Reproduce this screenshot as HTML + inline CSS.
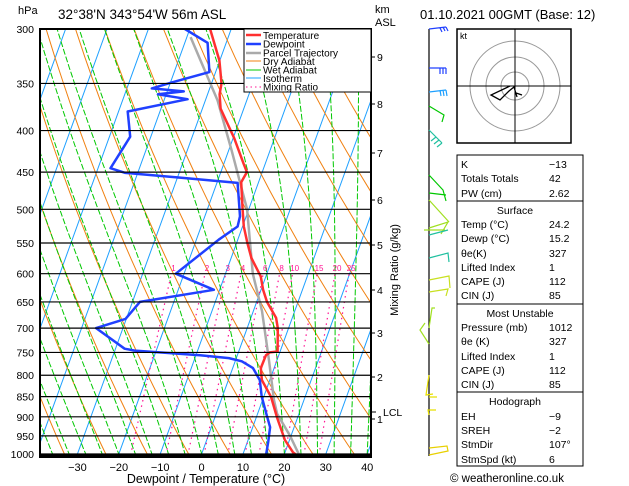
<!DOCTYPE html>
<html><head><meta charset="utf-8"><style>
body{margin:0;background:#fff;}
svg{display:block;font-family:"Liberation Sans",sans-serif;}
</style></head><body>
<svg id="s" width="629" height="486" viewBox="0 0 629 486">
<defs><clipPath id="pc"><rect x="40" y="29" width="331" height="428"/></clipPath></defs>
<g id="bg" clip-path="url(#pc)"></g>
<g id="series" clip-path="url(#pc)"></g>
<g id="axes"></g>
</svg>
<script>
const pressures=[300,350,400,450,500,550,600,650,700,750,800,850,900,950,1000];
const tempTicks=[-30,-20,-10,0,10,20,30,40];
const kmLabels=["9","8","7","6","5","4","3","2","1"];
const kmY=[57,104,153,200,245,290,333,377,419];
const mixRatios=[1,2,3,4,6,8,10,15,20,25];
const tempP=[1012,995,961,903,851,811,784,756,750,748,700,680,650,628,605,574,550,525,500,463,450,439,409,376,361,350,328,300];
const tempT=[24.3,21.9,18.9,15.1,11.8,8.1,6.8,6.9,7.6,9.4,7.4,6.1,2.5,0.5,-1.2,-5.1,-7.4,-9.7,-11.5,-14.2,-13.7,-15.3,-19.7,-25.6,-27.1,-27.6,-30.1,-35.1];
const dewP=[1012,965,927,892,850,811,784,769,762,756,750,746,742,700,682,650,628,600,545,525,510,464,457,451,445,407,379,366,361,358,355,349,339,312,300];
const dewT=[15.8,15,14.2,12.1,9.5,7.6,4.9,1.6,-1.8,-9,-19,-25.2,-27.8,-36.5,-30.2,-28.2,-11.4,-22,-14.6,-11.2,-11.5,-15,-29.4,-43,-47,-45,-47.8,-34.4,-42,-36,-44,-39.7,-31.5,-34.5,-41.2];
const parP=[1012,950,892,859,767,667,600,500,423,367,307];
const parT=[24.3,19.8,14.7,12.8,8.1,2.1,-3.4,-10.4,-19.3,-27.1,-39.1];

const NS="http://www.w3.org/2000/svg";
function yP(p){return 29+425*Math.log(p/300)/Math.log(1000/300);}
function xT(t,p){return 201.6+4.14*t+0.362*(454-yP(p));}
function mk(tag,at,parent){const e=document.createElementNS(NS,tag);for(const k in at)e.setAttribute(k,at[k]);parent.appendChild(e);return e;}
const bg=document.getElementById('bg'),ser=document.getElementById('series'),ax=document.getElementById('axes');
function pathFrom(ps,ts){return ps.map((p,i)=>(i?'L':'M')+xT(ts[i],p).toFixed(1)+','+yP(p).toFixed(1)).join('');}
// isotherms
for(let t=-150;t<=50;t+=10){const ps=[1050,250];const e=mk('path',{d:pathFrom(ps,[t,t]),stroke:'#1ea0ff',fill:'none','stroke-width':1},bg);
}
// dry adiabats
for(let th=220;th<=520;th+=10){const ps=[],ts=[];for(let p=1050;p>=250;p-=25){ps.push(p);ts.push(th*Math.pow(p/1000,0.286)-273.15);}
const e=mk('path',{d:pathFrom(ps,ts),stroke:'#f08010',fill:'none','stroke-width':1},bg);
}
// wet adiabats
function es(t){return 6.112*Math.exp(17.67*t/(t+243.5));}
for(let t0=-40;t0<=44;t0+=4){const ps=[],ts=[];let T=t0+273.15;
 const up=[];let p=1000;let TT=T;
 for(p=1000;p>=250;p-=5){ps.push(p);ts.push(TT-273.15);const rs=0.622*es(TT-273.15)/(p-es(TT-273.15));
  const g=(287*TT+2.5e6*rs)/(1004+(2.5e6*2.5e6*rs*0.622)/(287*TT*TT))/p; TT-=g*5;}
 TT=T;const ps2=[],ts2=[];for(p=1000;p<=1050;p+=5){ps2.push(p);ts2.push(TT-273.15);const rs=0.622*es(TT-273.15)/(p-es(TT-273.15));
  const g=(287*TT+2.5e6*rs)/(1004+(2.5e6*2.5e6*rs*0.622)/(287*TT*TT))/p; TT+=g*5;}
 const e=mk('path',{d:pathFrom(ps2.reverse().concat(ps),ts2.reverse().concat(ts)),stroke:'#00c800',fill:'none','stroke-width':1,'stroke-dasharray':'6,2'},bg);
 }
// mixing ratio
function tdW(w,p){const e=w*p/(622+w);const l=Math.log(e/6.112);return 243.5*l/(17.67-l);}
mixRatios.forEach(w=>{const ps=[1050,600];const e=mk('path',{d:pathFrom(ps,ps.map(p=>tdW(w,p))),stroke:'#ff1493',fill:'none','stroke-width':1.2,'stroke-dasharray':'1.5,4'},bg);

const t=mk('text',{x:xT(tdW(w,600),600)+2,y:271,'font-size':8,fill:'#ff1493','text-anchor':'middle'},ax);t.textContent=w;
});
// isobars
pressures.forEach(p=>{const y=yP(p);const l=mk('line',{x1:40,x2:371,y1:y,y2:y,stroke:'#000','stroke-width':1.2},ax);

const t=mk('text',{x:34,y:y+4,'font-size':10.5,'text-anchor':'end'},ax);t.textContent=p;
});
// series
function line(ps,ts,col,w,name){const e=mk('path',{d:pathFrom(ps,ts),stroke:col,fill:'none','stroke-width':w,'stroke-linejoin':'round'},ser);
}
line(parP,parT,'#aaaaaa',2.5,'parcel-trajectory');
line(tempP,tempT,'#ff3030',2.5,'temperature-line');
line(dewP,dewT,'#2040ff',2.5,'dewpoint-line');
// frame
const fr=mk('rect',{x:40,y:29,width:331,height:428,fill:'none',stroke:'#000','stroke-width':2},ax);

const bl=mk('line',{x1:40,x2:371,y1:456,y2:456,stroke:'#000','stroke-width':3},ax);
tempTicks.forEach(t=>{const x=201.6+4.14*t;const s=mk('text',{x:x,y:471,'font-size':11,'text-anchor':'middle'},ax);s.textContent=(t<0?'\u2212'+(-t):t);
});
kmLabels.forEach((k,i)=>{mk('line',{x1:371,x2:375,y1:kmY[i],y2:kmY[i],stroke:'#000'},ax);
const s=mk('text',{x:377,y:kmY[i]+4,'font-size':10.5},ax);s.textContent=k;});
</script>
<svg width="0" height="0"></svg>
<script>
const S=document.getElementById('s');
S.insertAdjacentHTML('beforeend',`
<g font-size="11">
<text x="18" y="14">hPa</text>
<text x="58" y="19" font-size="13.5">32°38'N  343°54'W  56m  ASL</text>
<text x="375" y="13">km</text>
<text x="375" y="26">ASL</text>
<line x1="371" x2="376" y1="412" y2="412" stroke="#000"/>
<text x="383" y="416" font-size="10.5">LCL</text>
<text x="206" y="483" font-size="12.5" text-anchor="middle">Dewpoint / Temperature (°C)</text>
<text transform="translate(398,270) rotate(-90)" font-size="11" text-anchor="middle">Mixing Ratio (g/kg)</text>
<text x="420" y="19" font-size="13">01.10.2021  00GMT  (Base: 12)</text>
</g>
<g font-size="10">
<rect x="244" y="29" width="127" height="63" fill="#fff" stroke="#000"/>
<line x1="246" x2="261" y1="35" y2="35" stroke="#ff3030" stroke-width="2.5"/><text x="263" y="39">Temperature</text>
<line x1="246" x2="261" y1="44" y2="44" stroke="#2040ff" stroke-width="2.5"/><text x="263" y="47.5">Dewpoint</text>
<line x1="246" x2="261" y1="53" y2="53" stroke="#aaa" stroke-width="2.5"/><text x="263" y="56.5">Parcel Trajectory</text>
<line x1="246" x2="261" y1="61" y2="61" stroke="#f08010"/><text x="263" y="65">Dry Adiabat</text>
<line x1="246" x2="261" y1="70" y2="70" stroke="#00c800"/><text x="263" y="73.5">Wet Adiabat</text>
<line x1="246" x2="261" y1="78" y2="78" stroke="#1ea0ff"/><text x="263" y="82">Isotherm</text>
<line x1="246" x2="261" y1="87" y2="87" stroke="#ff1493" stroke-dasharray="1.5,3"/><text x="263" y="90.5">Mixing Ratio</text>
</g>
<g stroke-width="1.2" fill="none">
<line x1="429" x2="429" y1="29" y2="456" stroke="#000"/>
<path d="M429,29 L446,27 M440,28 l2,4 M443,27 l2,4 M446,27 l2,4" stroke="#2040ff"/>
<path d="M429,68 L446,68 M440,68 l0,6 M443,68 l0,6 M446,68 l0,6" stroke="#2040ff"/>
<path d="M429,92 L446,90 M440,90 l1,6 M443,90 l1,6 M446,90 l1,6" stroke="#1ea0ff"/>
<path d="M429,106 L444,115 L442,122" stroke="#00c800"/>
<path d="M429,130 L442,143 M436,137 l-5,4 M439,140 l-5,4 M442,143 l-5,4" stroke="#20c0a0"/>
<path d="M429,175 L443,190 L446,201 M429,193 L446,195" stroke="#00c800"/>
<path d="M429,200 L449,222 M429,228 L448,222 L441,234 M424,230 L445,230" stroke="#a0e020"/>
<path d="M429,235 L448,230 M429,258 L448,253 L449,262" stroke="#20c0a0"/>
<path d="M429,280 L449,276 L450,288 M429,292 L448,289 L446,296" stroke="#c8e020"/>
<path d="M429,328 L432,308 L435,308 M429,344 L420,330 L425,323" stroke="#a0e020"/>
<path d="M429,375 L426,395 L433,394 M429,397 L437,397 M429,415 L428,410 L436,410" stroke="#e8e000"/>
<path d="M429,448 L447,446 L448,451 L429,455" stroke="#e8d000"/>
</g>
<g fill="none">
<rect x="457" y="29" width="114" height="114" stroke="#000" stroke-width="1.5"/>
<circle cx="515" cy="86" r="14" stroke="#999"/><circle cx="515" cy="86" r="29" stroke="#999"/><circle cx="515" cy="86" r="45" stroke="#999"/>
<line x1="457" x2="571" y1="86" y2="86" stroke="#000"/><line x1="515" x2="515" y1="29" y2="143" stroke="#000"/>
<path d="M510,86 L491,95 L500,100 L509,91 L514,87 L517,97 M516,93 L522,95" stroke="#000" stroke-width="1.3"/>
<text x="460" y="39" font-size="9" fill="#000" stroke="none">kt</text>
</g>
<g font-size="10.5">
<rect x="457" y="155" width="126" height="311" fill="none" stroke="#000"/>
<line x1="457" x2="583" y1="201" y2="201" stroke="#000"/><line x1="457" x2="583" y1="304" y2="304" stroke="#000"/><line x1="457" x2="583" y1="392" y2="392" stroke="#000"/>
<text x="461" y="168">K</text><text x="549" y="168">−13</text>
<text x="461" y="182">Totals Totals</text><text x="549" y="182">42</text>
<text x="461" y="197">PW (cm)</text><text x="549" y="197">2.62</text>
<text x="515" y="214" text-anchor="middle">Surface</text>
<text x="461" y="228">Temp (°C)</text><text x="549" y="228">24.2</text>
<text x="461" y="242">Dewp (°C)</text><text x="549" y="242">15.2</text>
<text x="461" y="257">θe(K)</text><text x="549" y="257">327</text>
<text x="461" y="271">Lifted Index</text><text x="549" y="271">1</text>
<text x="461" y="285">CAPE (J)</text><text x="549" y="285">112</text>
<text x="461" y="299">CIN (J)</text><text x="549" y="299">85</text>
<text x="520" y="317" text-anchor="middle">Most Unstable</text>
<text x="461" y="331">Pressure (mb)</text><text x="549" y="331">1012</text>
<text x="461" y="345">θe (K)</text><text x="549" y="345">327</text>
<text x="461" y="360">Lifted Index</text><text x="549" y="360">1</text>
<text x="461" y="374">CAPE (J)</text><text x="549" y="374">112</text>
<text x="461" y="388">CIN (J)</text><text x="549" y="388">85</text>
<text x="515" y="405" text-anchor="middle">Hodograph</text>
<text x="461" y="420">EH</text><text x="549" y="420">−9</text>
<text x="461" y="434">SREH</text><text x="549" y="434">−2</text>
<text x="461" y="448">StmDir</text><text x="549" y="448">107°</text>
<text x="461" y="463">StmSpd (kt)</text><text x="549" y="463">6</text>
</g>
<text x="450" y="482" font-size="11.5">© weatheronline.co.uk</text>
`);
</script>
</body></html>
